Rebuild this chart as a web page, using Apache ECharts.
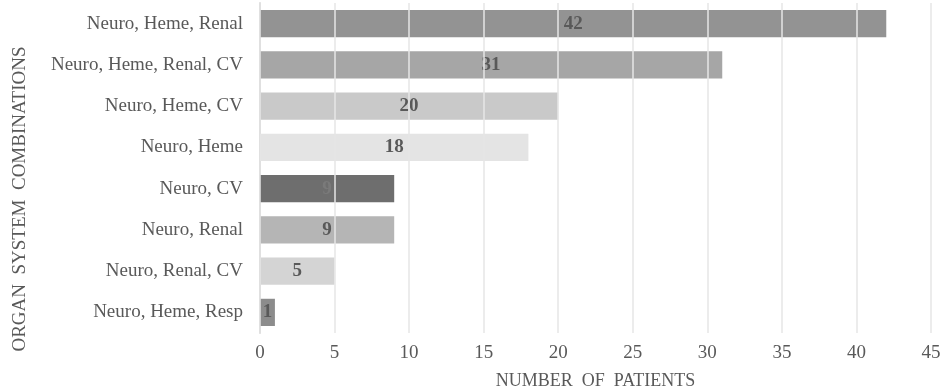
<!DOCTYPE html>
<html>
<head>
<meta charset="utf-8">
<script src="https://cdn.jsdelivr.net/npm/echarts@6/dist/echarts.min.js"></script>
<style>
  html, body { margin: 0; padding: 0; background: #fff; }
  #chart { width: 941px; height: 390px; }
</style>
</head>
<body>
<div id="chart"></div>
<script>
const categories = [
  'Neuro, Heme, Renal',
  'Neuro, Heme, Renal, CV',
  'Neuro, Heme, CV',
  'Neuro, Heme',
  'Neuro, CV',
  'Neuro, Renal',
  'Neuro, Renal, CV',
  'Neuro, Heme, Resp',
];
const patients = [42, 31, 20, 18, 9, 9, 5, 1];

// one grey per bar, top to bottom
const BAR_COLORS = ['#939393', '#a6a6a6', '#c9c9c9', '#e4e4e4', '#6e6e6e', '#b5b5b5', '#d4d4d4', '#8c8c8c'];
const TEXT = '#595959';
const FONT = '"Liberation Serif", "Times New Roman", serif';

const chart = echarts.init(document.getElementById('chart'), null, { renderer: 'canvas' });

chart.setOption({
  backgroundColor: '#fff',
  animation: false,
  grid: { left: 260, right: 10, top: 3, bottom: 57, containLabel: false, outerBoundsMode: 'none' },
  xAxis: {
    type: 'value',
    min: 0,
    max: 45,
    interval: 5,
    z: 3,
    name: 'NUMBER  OF  PATIENTS',
    nameLocation: 'middle',
    nameGap: 39,
    nameTextStyle: { color: TEXT, fontFamily: FONT, fontSize: 18 },
    axisLine: { show: false },
    axisTick: { show: false },
    axisLabel: { color: TEXT, fontFamily: FONT, fontSize: 19, margin: 11 },
    splitLine: { lineStyle: { color: '#e6e6e6', width: 1.5 } },
  },
  yAxis: {
    type: 'category',
    data: categories,
    inverse: true,
    name: 'ORGAN  SYSTEM  COMBINATIONS',
    nameLocation: 'middle',
    nameGap: 230,
    nameRotate: 90,
    nameTextStyle: { color: TEXT, fontFamily: FONT, fontSize: 19, padding: [0, 62, 0, 0] },
    axisLine: { show: true, lineStyle: { color: '#bfbfbf', width: 1.5 } },
    axisTick: { show: false },
    axisLabel: { color: TEXT, fontFamily: FONT, fontSize: 19, margin: 17 },
  },
  series: [
    {
      type: 'bar',
      barWidth: '66%',
      data: patients.map((v, i) => ({
        value: v,
        itemStyle: { color: BAR_COLORS[i] },
        label: i === 4 ? { color: '#7a7a7a' } : undefined,
      })),
      label: {
        show: true,
        position: 'inside',
        color: TEXT,
        fontFamily: FONT,
        fontWeight: 'bold',
        fontSize: 19,
      },
    },
  ],
});
</script>
</body>
</html>
